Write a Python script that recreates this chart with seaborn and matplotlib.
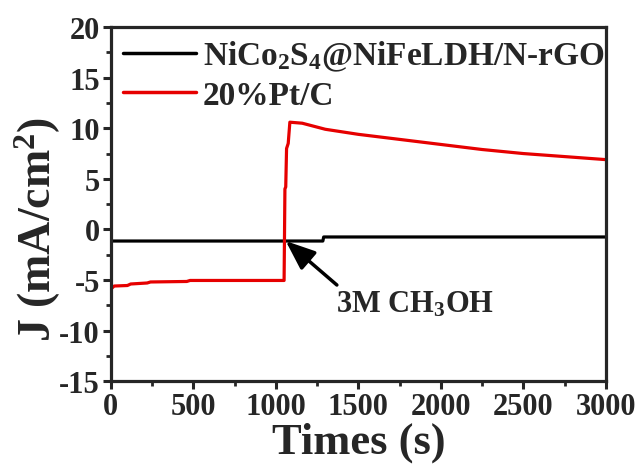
import matplotlib
matplotlib.use("Agg")
import matplotlib.pyplot as plt
import seaborn as sns
import pandas as pd
from matplotlib.ticker import MultipleLocator

# ---- data ----
t_black = [0, 1050, 1285, 1290, 3000]
j_black = [-1.15, -1.15, -1.15, -0.75, -0.75]

t_red = [0, 20, 100, 120, 220, 240, 460, 480, 1050, 1055, 1060, 1065,
         1075, 1085, 1160, 1300, 1500, 1750, 2000, 2250, 2500, 2750, 3000]
j_red = [-5.9, -5.6, -5.55, -5.4, -5.3, -5.2, -5.15, -5.05, -5.05, 4.0,
         4.2, 8.0, 8.5, 10.6, 10.5, 9.9, 9.4, 8.9, 8.4, 7.9, 7.5, 7.2, 6.9]

label_black = "NiCo$_\\mathbf{2}$S$_\\mathbf{4}$@NiFeLDH/N-rGO"
label_red = "20%Pt/C"
series_colors = ["#000000", "#e60000"]

x_ticks = [0, 500, 1000, 1500, 2000, 2500, 3000]
y_ticks = [-15, -10, -5, 0, 5, 10, 15, 20]

df = pd.concat([
    pd.DataFrame({"t": t_black, "J": j_black, "s": label_black}),
    pd.DataFrame({"t": t_red, "J": j_red, "s": label_red}),
], ignore_index=True)

sns.set_style("ticks")
plt.rcParams["font.family"] = ["Liberation Serif", "DejaVu Serif"]
plt.rcParams["font.weight"] = "bold"
plt.rcParams["axes.unicode_minus"] = False
plt.rcParams["mathtext.fontset"] = "custom"
plt.rcParams["mathtext.rm"] = "Liberation Serif:bold"
plt.rcParams["mathtext.bf"] = "Liberation Serif:bold"
plt.rcParams["mathtext.it"] = "Liberation Serif:bold"
plt.rcParams["mathtext.default"] = "bf"

fig = plt.figure(figsize=(6.41, 4.77), dpi=100)
ax = fig.add_axes([0.173, 0.199, 0.772, 0.742])

sns.lineplot(data=df, x="t", y="J", hue="s", palette=series_colors,
             estimator=None, sort=False, linewidth=2.3, ax=ax)

ax.set_xlim(0, 3000)
ax.set_ylim(-15, 20)
ax.set_xticks(x_ticks)
ax.set_yticks(y_ticks)
ax.xaxis.set_minor_locator(MultipleLocator(250))
ax.yaxis.set_minor_locator(MultipleLocator(2.5))
ax.tick_params(which="major", direction="out", length=6, width=2.2,
               labelsize=22, pad=2)
ax.tick_params(which="minor", direction="out", length=3.5, width=2.0)
for lab in ax.get_xticklabels() + ax.get_yticklabels():
    lab.set_fontweight("bold")
for sp in ax.spines.values():
    sp.set_linewidth(2.3)
    sp.set_visible(True)

ax.set_xlabel("Times (s)", fontsize=32, fontweight="bold", labelpad=0)
ax.set_ylabel("J (mA/cm$^2$)", fontsize=33, fontweight="bold",
              va="center", ha="center")
ax.yaxis.set_label_coords(-0.148, 0.43)

leg = ax.legend(loc="upper left", bbox_to_anchor=(0.0, 1.0), frameon=False,
                handlelength=2.2, handletextpad=0.2,
                labelspacing=0.2, borderaxespad=0.1, borderpad=0.25,
                prop={"weight": "bold", "size": 24})
for h in leg.get_lines():
    h.set_linewidth(2.5)

ax.annotate("", xy=(1060, -1.15), xytext=(1370, -5.5),
            arrowprops=dict(arrowstyle="-|>,head_length=1.0,head_width=0.4",
                            color="black", lw=2.5, mutation_scale=18,
                            shrinkA=0, shrinkB=0))
ax.text(1365, -7.4, "3M CH$_3$OH", fontsize=22, fontweight="bold",
        va="center", ha="left")

fig.savefig("out.png", dpi=100)
